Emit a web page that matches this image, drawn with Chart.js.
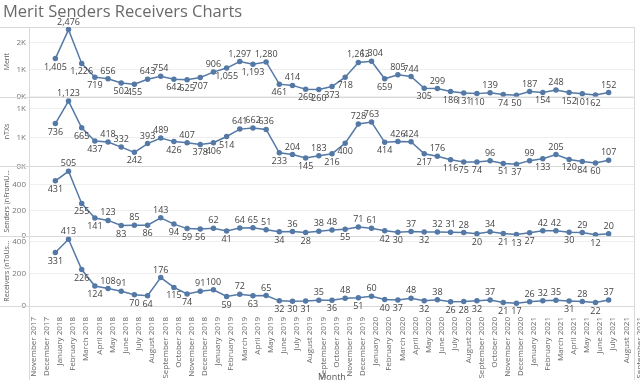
<!DOCTYPE html>
<html>
<head>
<meta charset="utf-8">
<script src="https://cdn.jsdelivr.net/npm/chart.js@4.4.1/dist/chart.umd.min.js"></script>
<style>
html,body{margin:0;padding:0;background:#fff;}
#wrap{position:relative;width:640px;height:385px;}
</style>
</head>
<body>
<div id="wrap"><canvas id="c" width="640" height="385"></canvas></div>
<script>
const months = [
  "November 2017","December 2017",
  "January 2018","February 2018","March 2018","April 2018","May 2018","June 2018","July 2018","August 2018","September 2018","October 2018","November 2018","December 2018",
  "January 2019","February 2019","March 2019","April 2019","May 2019","June 2019","July 2019","August 2019","September 2019","October 2019","November 2019","December 2019",
  "January 2020","February 2020","March 2020","April 2020","May 2020","June 2020","July 2020","August 2020","September 2020","October 2020","November 2020","December 2020",
  "January 2021","February 2021","March 2021","April 2021","May 2021","June 2021","July 2021","August 2021","September 2021"
];
const firstDataMonth = "January 2018";
const merit = [1405,2476,1226,719,656,502,455,643,754,642,625,707,
               906,1055,1297,1193,1280,461,414,269,260,373,718,1263,
               1304,659,805,744,305,299,186,131,110,139,74,50,
               187,154,248,152,101,62,152];
const nTXs = [736,1123,665,437,418,332,242,393,489,426,407,378,
              406,514,641,662,636,233,204,145,183,216,400,728,
              763,414,426,424,217,176,116,75,74,96,51,37,
              99,133,205,120,84,60,107];
const senders = [431,505,255,141,123,83,85,86,143,94,59,56,
                 62,41,64,65,51,34,36,28,38,48,55,71,
                 61,42,30,37,32,32,31,28,20,34,21,13,
                 27,42,42,30,29,12,20];
const receivers = [331,413,226,124,108,91,70,64,176,115,74,91,
                   100,59,72,63,65,32,30,31,35,36,48,51,
                   60,40,37,48,32,38,26,28,32,37,21,17,
                   26,32,35,31,28,22,37];
const panelTitles = ["Merit","nTXs","Senders (nFromU...","Receivers (nToUs..."];
// Tick values for each panel
const meritTicks = [0, 1000, 2000];
const nTXsTicks = [0, 500, 1000];
const sendersTicks = [0, 200, 400];
const receiversTicks = [0, 100, 200, 300, 400];

function pad(arr){
  const start = months.indexOf(firstDataMonth);
  const out = months.map(()=>null);
  arr.forEach((v,i)=>{ out[start+i] = v; });
  return out;
}
const LINE = '#5479a6';
const FONT = "'Open Sans', 'DejaVu Sans', sans-serif";

const labelPlugin = {
  id: 'pointLabels',
  afterDatasetsDraw(chart){
    const ctx = chart.ctx;
    ctx.save();
    ctx.font = "9px " + FONT;
    ctx.fillStyle = '#444';
    ctx.textAlign = 'center';
    chart.data.datasets.forEach((ds, di)=>{
      const meta = chart.getDatasetMeta(di);
      const vals = ds.data;
      meta.data.forEach((pt, i)=>{
        const v = vals[i];
        if (v === null || v === undefined) return;
        const nb = [vals[i-1], vals[i+1]].filter(x => x !== null && x !== undefined);
        const avg = nb.reduce((a,b)=>a+b,0)/nb.length;
        const txt = v.toLocaleString('en-US');
        if (v >= avg) { ctx.textBaseline = 'bottom'; ctx.fillText(txt, pt.x, pt.y - 3); }
        else { ctx.textBaseline = 'top'; ctx.fillText(txt, pt.x, pt.y + 4); }
      });
    });
    ctx.restore();
  }
};

const framePlugin = {
  id: 'frame',
  beforeDatasetsDraw(chart){
    const ctx = chart.ctx, a = chart.chartArea;
    ctx.save();
    ctx.strokeStyle = '#d9d9d9'; ctx.lineWidth = 1;
    ['yM','yT','yS','yR'].forEach(id=>{
      const s = chart.scales[id];
      ctx.beginPath(); ctx.moveTo(0, Math.round(s.top)+0.5); ctx.lineTo(a.right, Math.round(s.top)+0.5); ctx.stroke();
    });
    ctx.beginPath();
    ctx.moveTo(0, Math.round(a.bottom)+0.5); ctx.lineTo(a.right, Math.round(a.bottom)+0.5);
    ctx.moveTo(Math.round(a.right)-0.5, a.top); ctx.lineTo(Math.round(a.right)-0.5, a.bottom + 74);
    ctx.moveTo(Math.round(a.left)+0.5, a.top); ctx.lineTo(Math.round(a.left)+0.5, a.bottom + 74);
    ctx.stroke();
    ctx.restore();
  }
};

function yAxis(title, max, tickVals, weight, fmt){
  return {
    type: 'linear', position: 'left', stack: 'panels', stackWeight: 1, weight: weight,
    min: 0, max: max,
    border: { display: false },
    grid: { color: '#efefef', drawTicks: false },
    title: { display: true, text: title, color: '#555', font: { size: 7, family: FONT }, padding: {top:0,bottom:1} },
    ticks: { color: '#777', font: { size: 8, family: FONT }, padding: 3, callback: fmt },
    afterBuildTicks: s => { s.ticks = tickVals.map(v => ({ value: v })); },
    afterFit: s => { s.width = 26; }
  };
}
const kfmt = v => Math.round(v/1000) + 'K';
const nfmt = v => String(v);
function ds(label, arr, axis){
  return { label, data: pad(arr), yAxisID: axis, borderColor: LINE, backgroundColor: LINE,
           borderWidth: 1.5, pointRadius: 2, pointHoverRadius: 2, tension: 0 };
}

new Chart(document.getElementById('c'), {
  type: 'line',
  data: { labels: months, datasets: [ ds('Merit', merit, 'yM'), ds('nTXs', nTXs, 'yT'), ds('Senders', senders, 'yS'), ds('Receivers', receivers, 'yR') ] },
  options: {
    responsive: false, animation: false, devicePixelRatio: 1,
    layout: { padding: { left: 3, right: 5, top: 0, bottom: 0 } },
    plugins: {
      legend: { display: false }, tooltip: { enabled: false },
      title: { display: true, text: 'Merit Senders Receivers Charts', align: 'start', color: '#6a6a6a',
               font: { size: 16.5, family: FONT, weight: 'normal' }, padding: { top: 2, bottom: 5 } }
    },
    scales: {
      x: {
        type: 'category', offset: false,
        grid: { display: false }, border: { display: false },
        title: { display: true, text: 'Month', color: '#555', font: { size: 9, family: FONT }, padding: {top:0,bottom:2} },
        ticks: { autoSkip: false, maxRotation: 90, minRotation: 90, color: '#666', font: { size: 8, family: FONT }, padding: 3, labelOffset: 4.5 },
        afterFit: s => { s.height = 79; s.paddingRight = 0; s.paddingLeft = 0; }
      },
      yM: yAxis(panelTitles[0], 2580, meritTicks, 4, kfmt),
      yT: yAxis(panelTitles[1], 1200, nTXsTicks, 3, kfmt),
      yS: yAxis(panelTitles[2], 543, sendersTicks, 2, nfmt),
      yR: yAxis(panelTitles[3], 432, receiversTicks, 1, nfmt)
    }
  },
  plugins: [labelPlugin, framePlugin]
});
</script>
</body>
</html>
